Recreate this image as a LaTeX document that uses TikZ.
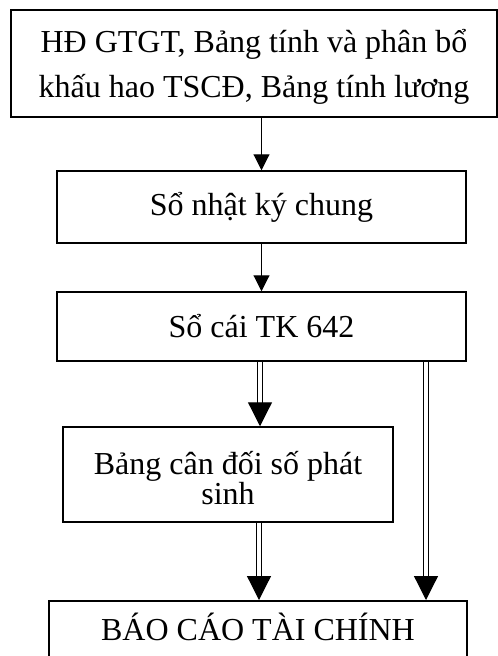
\documentclass[tikz,border=0pt]{standalone}
\usepackage{fontspec}
\setmainfont{Liberation Serif}
\usetikzlibrary{arrows.meta,calc}
\begin{document}
\begin{tikzpicture}[x=1pt,y=-1pt,
  box/.style={draw=black,line width=1.5pt,inner sep=0pt,align=center,
    font=\fontsize{32}{38}\selectfont},
  label/.style={inner sep=0pt,align=center,font=\fontsize{32}{38}\selectfont},
  flow/.style={line width=1.1pt,-{Triangle[width=16pt,length=16pt]}},
  dflow/.style={line width=1.2pt,double,double distance=3.6pt,
    -{Triangle[width=24pt,length=24pt]}}]
\clip (0,0) rectangle (498,656);
\useasboundingbox (0,0) rectangle (498,656);

% boxes of the flow
\node[box,minimum width=486pt,minimum height=107pt,line width=2pt] (src) at (254,63.5) {};
\node[label,font=\fontsize{32}{45}\selectfont] (srct) at (254,67)
  {HĐ GTGT, Bảng tính và phân bổ\\khấu hao TSCĐ, Bảng tính lương};
\node[box,minimum width=409pt,minimum height=72pt] (nkc) at (261.5,207)
  {Sổ nhật ký chung};
\node[box,minimum width=409pt,minimum height=69pt] (sc) at (261.5,326.5)
  {Sổ cái TK 642};
\node[box,minimum width=330pt,minimum height=95pt] (cd) at (228,474.5) {};
\node[label,font=\fontsize{32}{28}\selectfont] (cdt) at (228,478)
  {Bảng cân đối số phát\\sinh};
\node[box,minimum width=418pt,minimum height=120pt,anchor=north] (bc) at (258,600) {};
\node[label] (bct) at (258,627) {BÁO CÁO TÀI CHÍNH};

% connectors
\draw[flow] (nkc.north |- src.south) -- (nkc.north);
\draw[flow] (nkc.south) -- (sc.north);
\draw[dflow] ([xshift=-1.5pt]sc.south) -- ([xshift=-1.5pt]sc.south |- cd.north);
\draw[dflow] ([xshift=-2.5pt]sc.south |- cd.south) -- ([xshift=-2.5pt]sc.south |- bc.north);
\draw[dflow] ([xshift=164.5pt]sc.south) -- ([xshift=164.5pt]sc.south |- bc.north);
\end{tikzpicture}
\end{document}
